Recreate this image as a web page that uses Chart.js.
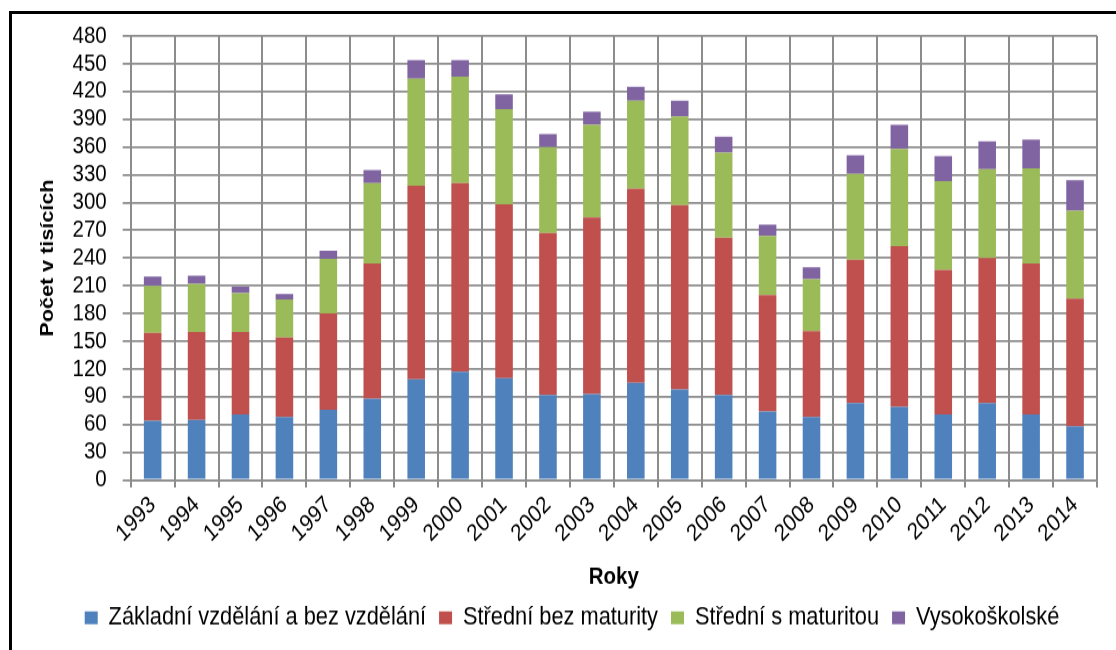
<!DOCTYPE html>
<html>
<head>
<meta charset="utf-8">
<script src="https://cdn.jsdelivr.net/npm/chart.js@4"></script>
<style>
  body { margin: 0; background: #fff; overflow: hidden; }
  #frame { position: absolute; left: 9px; top: 11px; width: 1200px; height: 700px; border: 3px solid #000; }
  /* the reference looks stretched vertically, so draw at 560px and stretch to 650px */
  #wrap { position: absolute; left: 0; top: 0; width: 1116px; height: 560px;
          transform: scaleY(1.1607); transform-origin: 0 0; }
</style>
</head>
<body>
<div id="frame"></div>
<div id="wrap"><canvas id="chart" width="1116" height="560"></canvas></div>
<script>
// chart data (thousands)
const years = ['1993', '1994', '1995', '1996', '1997', '1998', '1999', '2000', '2001', '2002', '2003',
               '2004', '2005', '2006', '2007', '2008', '2009', '2010', '2011', '2012', '2013', '2014'];
const zakladni   = [64, 65, 71, 68, 76, 88, 109, 117, 110, 92, 93, 105, 98, 92, 74, 68, 83, 79, 71, 83, 71, 58];
const bezMaturity = [95, 95, 89, 86, 104, 146, 209, 204, 188, 175, 191, 210, 199, 170, 126, 93, 155, 174, 156, 157, 163, 138];
const sMaturitou = [51, 52, 42, 41, 59, 87, 116, 115, 103, 93, 100, 95, 96, 92, 64, 56, 93, 105, 96, 96, 103, 95];
const vysokoskolske = [10, 9, 7, 6, 9, 14, 20, 18, 16, 14, 14, 15, 17, 17, 12, 13, 20, 26, 27, 30, 31, 33];
const seriesNames = ['Základní vzdělání a bez vzdělání', 'Střední bez maturity', 'Střední s maturitou', 'Vysokoškolské'];
const seriesColors = ['#4F81BD', '#C0504D', '#9BBB59', '#8064A2'];

const FONT = '"Liberation Sans", Arial, sans-serif';
const gridColor = '#8c8c8c';

function makeSet(i, data) {
    return {
        label: seriesNames[i],
        data: data,
        backgroundColor: seriesColors[i],
        borderWidth: 0,
        barPercentage: 0.4,
        categoryPercentage: 1.0
    };
}

new Chart(document.getElementById('chart').getContext('2d'), {
    type: 'bar',
    data: {
        labels: years,
        datasets: [
            makeSet(0, zakladni),
            makeSet(1, bezMaturity),
            makeSet(2, sMaturitou),
            makeSet(3, vysokoskolske)
        ]
    },
    options: {
        responsive: false,
        animation: false,
        layout: { padding: { top: 31, left: 47, right: 19, bottom: 6.9 } },
        scales: {
            x: {
                stacked: true,
                afterFit: function(scale) { scale.height = 94.8; },
                grid: { color: gridColor, lineWidth: 2, tickLength: 6.4, offset: true },
                border: { color: gridColor, width: 1.8 },
                ticks: {
                    minRotation: 43, maxRotation: 43, padding: 3, autoSkip: false,
                    color: '#000', font: { family: FONT, size: 20.5 }
                },
                title: {
                    display: true, text: 'Roky', color: '#000',
                    font: { family: FONT, size: 20.5, weight: 'bold' },
                    padding: { top: 0, bottom: -1.7 }
                }
            },
            y: {
                stacked: true,
                min: 0, max: 480,
                afterFit: function(scale) { scale.width = 130.7 - 47; },
                grid: { color: gridColor, lineWidth: 1.8, tickLength: 8 },
                border: { color: gridColor, width: 2 },
                ticks: {
                    stepSize: 30, padding: 16, autoSkip: false,
                    color: '#000', font: { family: FONT, size: 20.5 }
                },
                title: {
                    display: true, text: 'Počet v tisících', color: '#000',
                    font: { family: FONT, size: 18.6, weight: 'bold' },
                    padding: { top: -10.2, bottom: 0 }
                }
            }
        },
        plugins: {
            legend: {
                position: 'bottom',
                labels: {
                    boxWidth: 13, boxHeight: 11, padding: 13,
                    color: '#000', font: { family: FONT, size: 21.8 }
                }
            },
            tooltip: { enabled: false }
        }
    }
});
</script>
</body>
</html>
